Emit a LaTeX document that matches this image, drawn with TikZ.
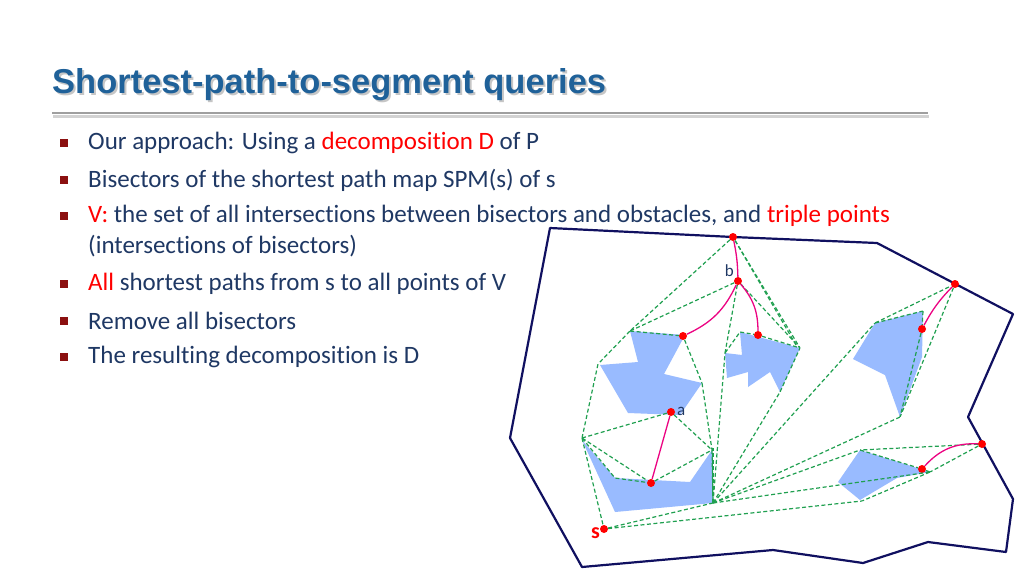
\documentclass[tikz,border=0pt]{standalone}
\usepackage{fontspec}
\setmainfont[Ligatures=NoCommon]{Carlito}
\newfontfamily\titlefont{Liberation Sans}
\begin{document}
\begin{tikzpicture}[x=1pt,y=-1pt,
  obst/.style={fill=obcol,draw=none},
  gd/.style={draw=grn,line width=1.2pt,dash pattern=on 4pt off 2.5pt},
  mg/.style={draw=magenta!90!red,line width=1.3pt},
  rp/.style={circle,fill=red,inner sep=0pt,minimum size=8pt},
  vx/.style={inner sep=0pt,minimum size=0pt},
  bl/.style={anchor=west,text=navy,font=\fontsize{25}{30}\selectfont,inner sep=0pt},
  sq/.style={fill=bulred,minimum size=7.5pt,inner sep=0pt}]
\definecolor{navy}{HTML}{1F3864}
\definecolor{titc}{HTML}{1F6199}
\definecolor{bulred}{HTML}{8B1010}
\definecolor{obcol}{HTML}{99BBFF}
\definecolor{grn}{HTML}{20A050}
\definecolor{bnd}{HTML}{101060}
\useasboundingbox (0,0) rectangle (1024,576);
\fill[white] (0,0) rectangle (1024,576);
% title
\node[anchor=west,inner sep=0pt,text=gray!45] at (54,87) {\titlefont\bfseries\fontsize{34.5}{38}\selectfont Shortest-path-to-segment queries};
\node[anchor=west,inner sep=0pt,text=titc] (title) at (52,85) {\titlefont\bfseries\fontsize{34.5}{38}\selectfont Shortest-path-to-segment queries};
\draw[gray!35,line width=3pt] (53,116) -- (929,116);
\draw[gray!75,line width=2.5pt] (52,113) -- (928,113);
% bullets
\foreach \y in {143,180,216,284,321,357} \node[sq] at (64,\y) {};
\node[bl] (t1) at (88,143) {Our approach: Using a \textcolor{red}{decomposition D} of P};
\node[bl] (t2) at (88,180) {Bisectors of the shortest path map SPM(s) of s};
\node[bl] (t3) at (88,216) {\textcolor{red}{V:} the set of all intersections between bisectors and obstacles, and \textcolor{red}{triple points}};
\node[bl] (t4) at (88,246) {(intersections of bisectors)};
\node[bl] (t5) at (88,284) {\textcolor{red}{All} shortest paths from s to all points of V};
\node[bl] (t6) at (88,321) {Remove all bisectors};
\node[bl] (t7) at (88,357) {The resulting decomposition is D};
% boundary
\draw[bnd,line width=2.2pt,line join=round] (550,228) -- (733,237) -- (877,243) -- (1013,314) -- (968,417) -- (1013,499) -- (1006,552) -- (928,542) -- (863,563) -- (773,550) -- (582,567) -- (510,438) -- cycle;
% obstacles
\fill[obst] (630,331) -- (685,335) -- (664,374) -- (702,383) -- (680,415) -- (628,413) -- (600,365) -- (638,362) -- cycle;
\fill[obst] (582,440) -- (615,478) -- (690,482) -- (712,450) -- (713,503) -- (615,512) -- cycle;
\fill[obst] (740,332) -- (800,348) -- (780,392) -- (770,372) -- (748,387) -- (748,372) -- (727,378) -- (725,353) -- (742,355) -- cycle;
\fill[obst] (875,323) -- (923,311) -- (922,357) -- (900,417) -- (885,375) -- (853,359) -- cycle;
\fill[obst] (860,450) -- (930,472) -- (897,478) -- (860,500) -- (838,482) -- cycle;
% vertices
\node[rp] (top) at (733,237) {};
\node[rp] (b) at (738,281) {};
\node[rp] (p1) at (683,336) {};
\node[rp] (p2) at (758,335) {};
\node[rp] (a) at (671,412) {};
\node[rp] (p3) at (651,483) {};
\node[rp] (p4) at (955,284) {};
\node[rp] (p5) at (922,329) {};
\node[rp] (p6) at (982,444) {};
\node[rp] (p7) at (922,469) {};
\node[rp] (s) at (604,529) {};
\node[vx] (o1) at (630,331) {};
\node[vx] (o2) at (598,364) {};
\node[vx] (o3) at (582,438) {};
\node[vx] (o4) at (702,383) {};
\node[vx] (o5) at (712,450) {};
\node[vx] (o6) at (713,503) {};
\node[vx] (c1) at (725,353) {};
\node[vx] (c2) at (740,332) {};
\node[vx] (c3) at (800,348) {};
\node[vx] (c4) at (780,392) {};
\node[vx] (r1) at (875,323) {};
\node[vx] (r2) at (923,311) {};
\node[vx] (r3) at (900,417) {};
\node[vx] (q1) at (860,450) {};
\node[vx] (q2) at (930,472) {};
\node[vx] (q3) at (862,501) {};
\node[vx] (m1) at (713,448) {};
\coordinate (c5) at (796,345);
\coordinate (o7) at (615,478);
% green dashed
\draw[gd] (top) -- (o1);
\draw[gd] (top) -- (c3);
\draw[gd] (top) -- (c5);
\draw[gd] (b) -- (o1);
\draw[gd] (b) -- (c1);
\draw[gd] (b) -- (c3);
\draw[gd] (o1) -- (p1) -- (o4) -- (o5) -- (o6);
\draw[gd] (o1) -- (o2) -- (o3) -- (s) -- (o6);
\draw[gd] (s) -- (q3);
\draw[gd] (a) -- (o3);
\draw[gd] (a) -- (o5);
\draw[gd] (o3) -- (p3) -- (o5);
\draw[gd] (o3) -- (o7) -- (p3);
\draw[gd] (c1) -- (c2) -- (p2) -- (c3);
\draw[gd] (o6) -- (c1);
\draw[gd] (o6) -- (m1);
\draw[gd] (o6) -- (c4) -- (c3);
\draw[gd] (o6) -- (r1);
\draw[gd] (o6) -- (r3);
\draw[gd] (o6) -- (q1);
\draw[gd] (o6) -- (q2);
\draw[gd] (r1) -- (r2) -- (p5) -- (r3);
\draw[gd] (r1) -- (p4);
\draw[gd] (p4) -- (r3);
\draw[gd] (p6) -- (q1);
\draw[gd] (p6) -- (q2);
\draw[gd] (q1) -- (p7) -- (q2) -- (q3);
% magenta paths
\draw[mg] (top) to[bend left=5] (b);
\draw[mg] (b) to[bend left=20] (p1);
\draw[mg] (b) to[bend left=20] (p2);
\draw[mg] (a) -- (p3);
\draw[mg] (p4) to[bend right=8] (p5);
\draw[mg] (p6) to[bend right=25] (p7);
% labels
\node[text=navy,font=\fontsize{17}{19}\selectfont,anchor=east,inner sep=1pt] at (735,271) {b};
\node[text=navy,font=\fontsize{17}{19}\selectfont,anchor=west,inner sep=1pt] at (676,411) {a};
\node[text=red,font=\bfseries\fontsize{22}{24}\selectfont,anchor=east,inner sep=1pt] at (601,533) {s};
\end{tikzpicture}
\end{document}
